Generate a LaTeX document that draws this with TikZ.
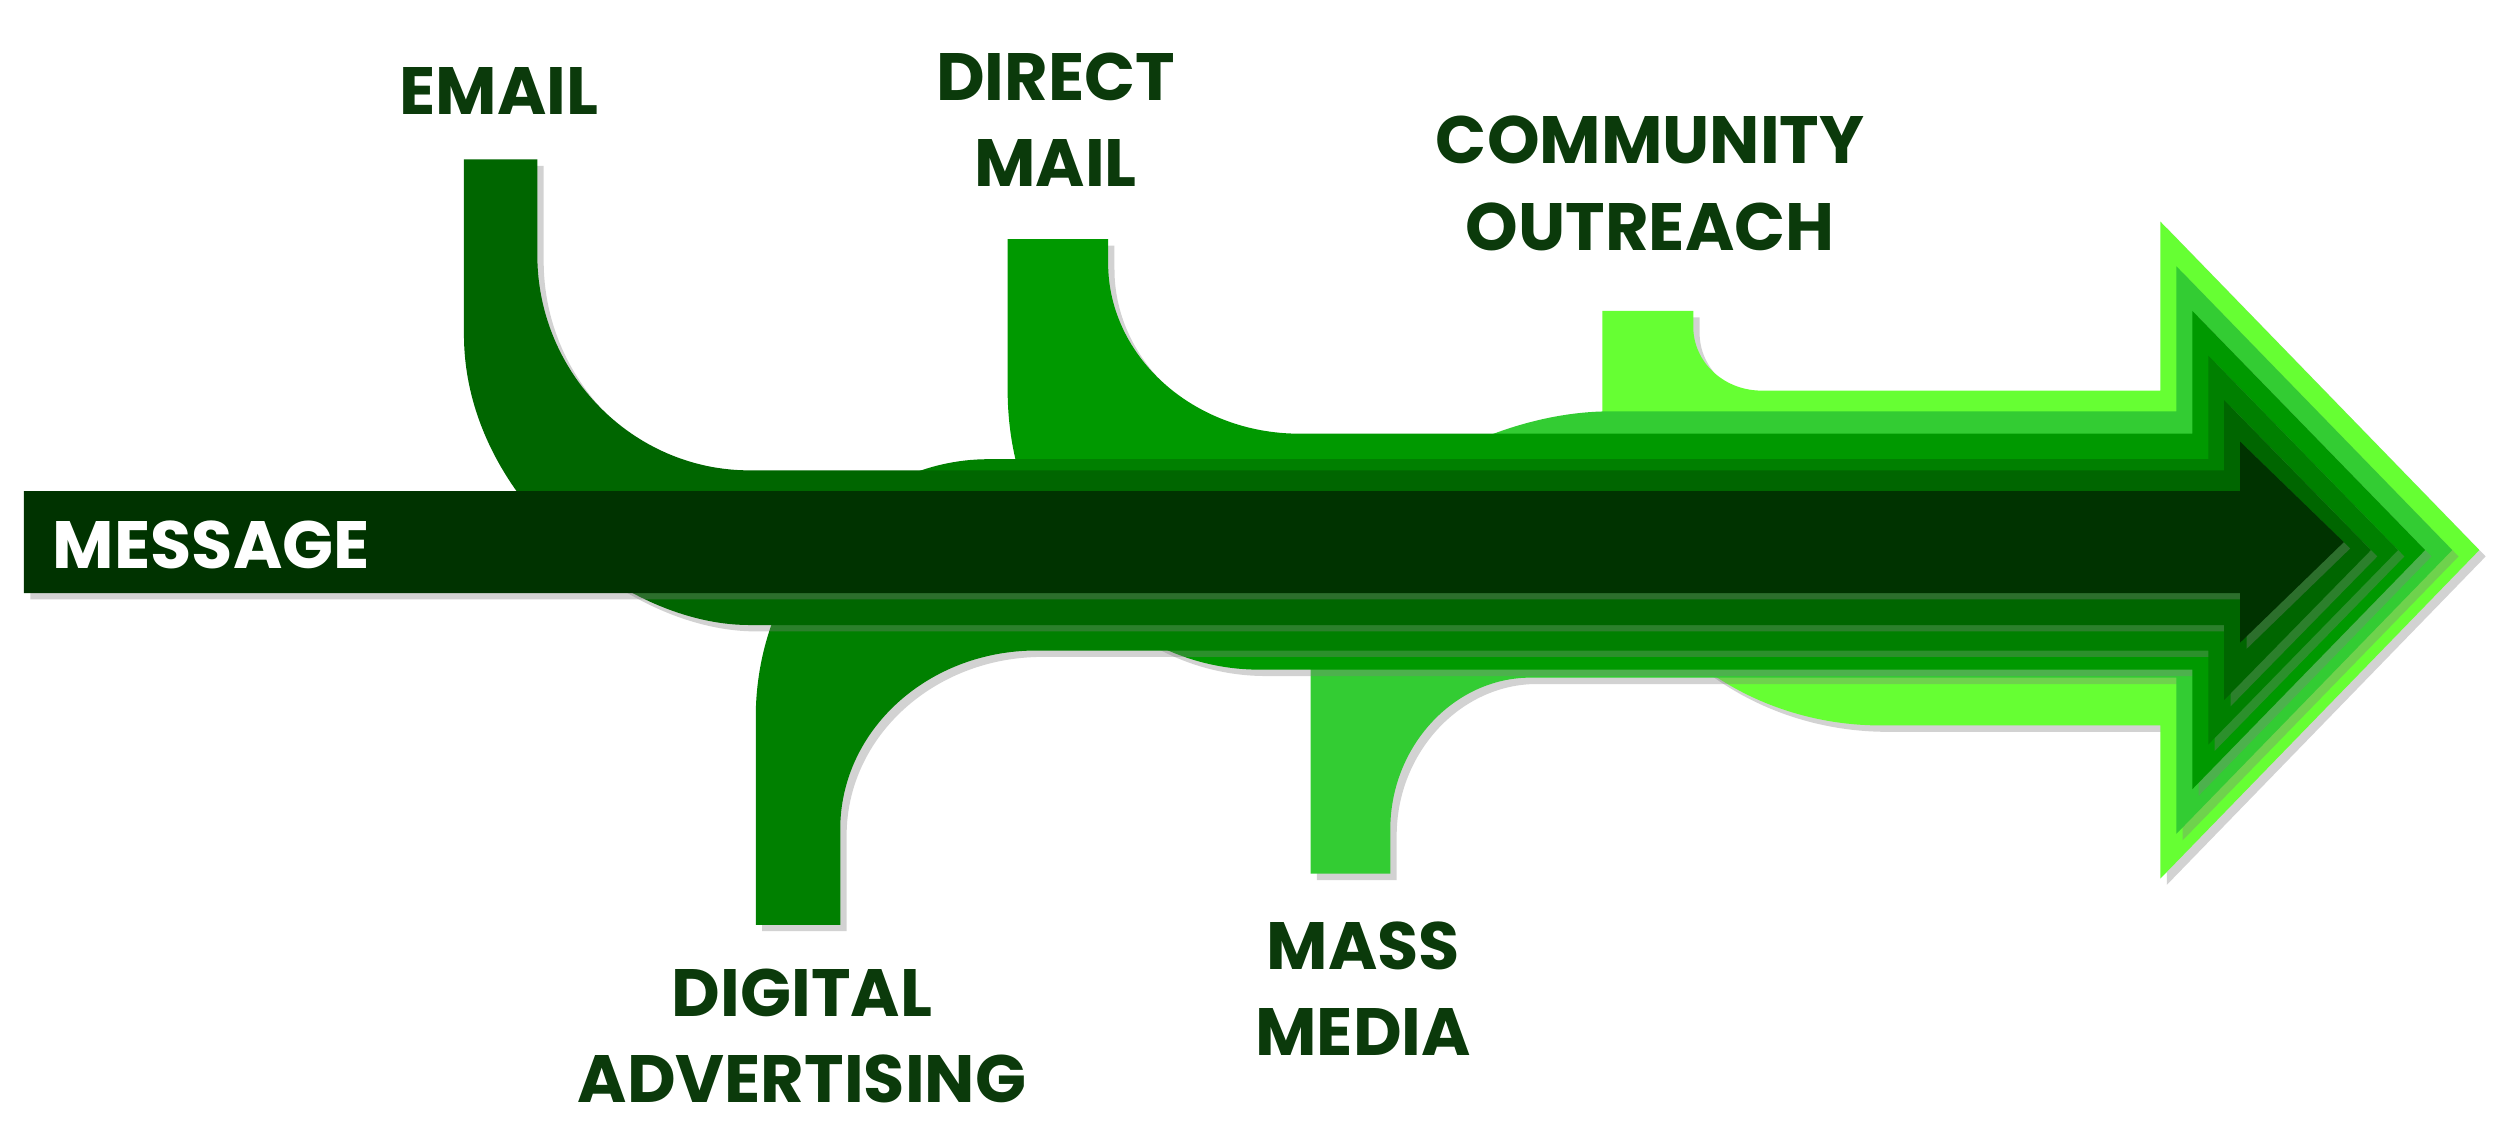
\documentclass[tikz,border=0pt]{standalone}
\usepackage{fontspec}
\setmainfont{Poppins}
\usetikzlibrary{shadows}
\definecolor{cCom}{HTML}{66FF33}
\definecolor{cMass}{HTML}{33CC33}
\definecolor{cDir}{HTML}{009900}
\definecolor{cDig}{HTML}{008000}
\definecolor{cEm}{HTML}{006600}
\definecolor{cMsg}{HTML}{003300}
\definecolor{txt}{HTML}{0B3A0B}
\tikzset{
  layer/.style={fill=#1, draw=none, drop shadow={opacity=.35, shadow xshift=4pt, shadow yshift=-4pt}},
  lbl/.style={font=\fontsize{42}{54}\selectfont\bfseries, text=txt, align=center, inner sep=0pt},
}
\begin{document}
\begin{tikzpicture}[x=1pt,y=-1pt]
\useasboundingbox[fill=white] (0,0) rectangle (1568,715);
% community
\path[layer=cCom] (1005,195) -- (1062,195) -- (1062,205) .. controls (1062,227) and (1081,245) .. (1105,245) -- (1355,245) -- (1355,139) -- (1555,345) -- (1355,551) -- (1355,455) -- (1180,455) .. controls (1084,455) and (1005,385) .. (1005,300) -- cycle;
% mass media
\path[layer=cMass] (822,548) -- (872,548) -- (872,520) .. controls (872,468) and (912,425) .. (960,425) -- (1365,425) -- (1365,523) -- (1538,345) -- (1365,167) -- (1365,258) -- (1010,258) .. controls (925,258) and (822,322) .. (822,400) -- cycle;
% direct mail
\path[layer=cDir] (632,150) -- (695,150) -- (695,165) .. controls (695,224) and (749,272) .. (815,272) -- (1375,272) -- (1375,195) -- (1521,345) -- (1375,495) -- (1375,420) -- (790,420) .. controls (703,420) and (632,341) .. (632,245) -- cycle;
% digital
\path[layer=cDig] (474,580) -- (527,580) -- (527,520) .. controls (527,458) and (582,408) .. (650,408) -- (1385,408) -- (1385,467) -- (1504,345) -- (1385,223) -- (1385,288) -- (620,288) .. controls (540,288) and (474,361) .. (474,450) -- cycle;
% email
\path[layer=cEm] (291,100) -- (337,100) -- (337,160) .. controls (337,234) and (397,295) .. (470,295) -- (1395,295) -- (1395,251) -- (1487,345) -- (1395,439) -- (1395,392) -- (470,392) .. controls (390,392) and (291,310) .. (291,210) -- cycle;
% message
\path[layer=cMsg] (15,308) -- (1405,308) -- (1405,277) -- (1470,340) -- (1405,403) -- (1405,372) -- (15,372) -- cycle;
\node[lbl, text=white, anchor=west] (msg) at (33,342) {MESSAGE};
\node[lbl] (email) at (313,57) {EMAIL};
\node[lbl] (direct) at (662,75) {DIRECT\\MAIL};
\node[lbl] (comm) at (1035,115) {COMMUNITY\\OUTREACH};
\node[lbl] (dig) at (503,650) {DIGITAL\\ADVERTISING};
\node[lbl] (mass) at (855,620) {MASS\\MEDIA};
\end{tikzpicture}
\end{document}
